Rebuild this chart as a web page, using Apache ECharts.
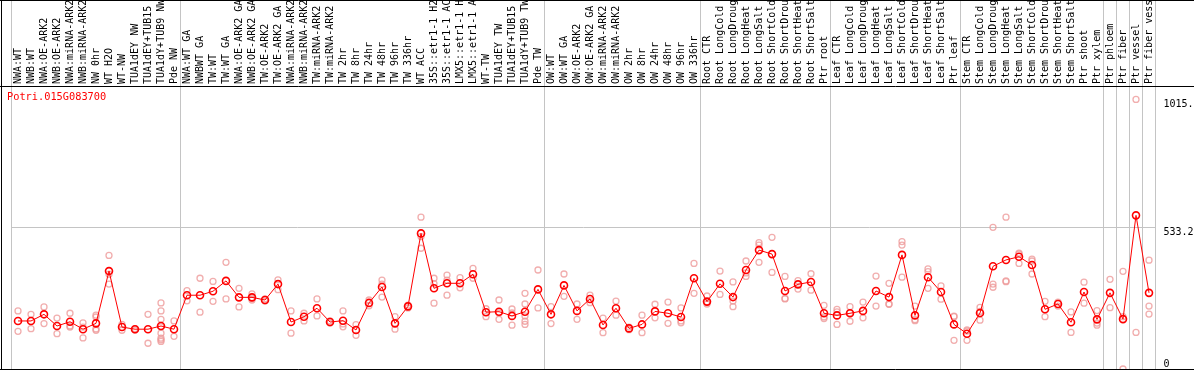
<!DOCTYPE html>
<html>
<head>
<meta charset="utf-8">
<title>Potri.015G083700</title>
<script src="https://cdn.jsdelivr.net/npm/echarts@6/dist/echarts.min.js"></script>
<style>
  html, body { margin: 0; padding: 0; background: #fff; }
  #main { width: 1194px; height: 370px; }
</style>
</head>
<body>
<div id="main"></div>
<script>
var geneName = 'Potri.015G083700';

// sample names (as shown, cut to 14 chars)
var categories = [
  'NWA:WT', 'NWB:WT', 'NWA:OE-ARK2', 'NWB:OE-ARK2', 'NWA:miRNA-ARK2', 'NWB:miRNA-ARK2', 'NW 0hr',
  'WT H2O', 'WT-NW', 'TUA1dEY NW', 'TUA1dEY+TUB15', 'TUA1dY+TUB9 NW', 'Pde NW',
  'NWA:WT GA', 'NWBWT GA', 'TW:WT', 'TW:WT GA', 'NWA:OE-ARK2 GA', 'NWB:OE-ARK2 GA', 'TW:OE-ARK2',
  'TW:OE-ARK2 GA', 'NWA:miRNA-ARK2', 'NWB:miRNA-ARK2', 'TW:miRNA-ARK2', 'TW:miRNA-ARK2',
  'TW 2hr', 'TW 8hr', 'TW 24hr', 'TW 48hr', 'TW 96hr', 'TW 336hr', 'WT ACC',
  '35S::etr1-1 H2', '35S::etr1-1 AC', 'LMX5::etr1-1 H', 'LMX5::etr1-1 A', 'WT-TW',
  'TUA1dEY TW', 'TUA1dEY+TUB15', 'TUA1dY+TUB9 TW', 'Pde TW',
  'OW:WT', 'OW:WT GA', 'OW:OE-ARK2', 'OW:OE-ARK2 GA', 'OW:miRNA-ARK2', 'OW:miRNA-ARK2',
  'OW 2hr', 'OW 8hr', 'OW 24hr', 'OW 48hr', 'OW 96hr', 'OW 336hr',
  'Root CTR', 'Root LongCold', 'Root LongDroug', 'Root LongHeat', 'Root LongSalt',
  'Root ShortCold', 'Root ShortDrou', 'Root ShortHeat', 'Root ShortSalt', 'Ptr root',
  'Leaf CTR', 'Leaf LongCold', 'Leaf LongDroug', 'Leaf LongHeat', 'Leaf LongSalt',
  'Leaf ShortCold', 'Leaf ShortDrou', 'Leaf ShortHeat', 'Leaf ShortSalt', 'Ptr leaf',
  'Stem CTR', 'Stem LongCold', 'Stem LongDroug', 'Stem LongHeat', 'Stem LongSalt',
  'Stem ShortCold', 'Stem ShortDrou', 'Stem ShortHeat', 'Stem ShortSalt', 'Ptr shoot',
  'Ptr xylem', 'Ptr phloem', 'Ptr fiber', 'Ptr vessel', 'Ptr fiber vess'
];

// first sample of each group (a grey separator is drawn before it)
var groupStarts = [0, 13, 41, 53, 63, 73, 84, 85, 86, 87];

// mean expression level per sample
var means = [
  181, 181, 206, 162, 178, 150, 172, 369, 158, 150, 150, 162, 150,
  278, 278, 293, 332, 270, 270, 260, 320, 177, 197, 229, 177, 182, 147, 249, 309, 172, 236, 511,
  304, 323, 323, 357, 214, 216, 200, 216, 300,
  206, 315, 219, 264, 166, 229, 153, 168, 217, 210, 196, 342,
  254, 321, 271, 373, 448, 433, 294, 319, 328, 210,
  202, 210, 219, 294, 271, 430, 202, 346, 290, 168,
  133, 211, 387, 411, 423, 392, 225, 245, 176, 290,
  187, 287, 188, 579, 287
];

// single replicates per sample
var replicates = [
  [219, 142], [206, 152], [234, 171], [192, 133], [210, 162, 158], [174, 117, 158],
  [203, 196, 146, 151], [428, 357, 320], [168, 146], [152, 147], [206, 97],
  [249, 219, 187, 159, 135, 116, 110, 104], [181, 123],
  [295, 257], [342, 214], [330, 255], [402, 264], [304, 234], [283, 260, 267], [264, 256],
  [336, 299], [219, 135], [210, 181], [264, 200], [181, 173], [219, 159, 170], [167, 127],
  [260, 238], [335, 271, 320], [197, 150], [241, 230], [572, 455, 499], [342, 248, 322],
  [354, 278, 335], [344, 306], [379, 342], [227, 197], [260, 187, 211], [226, 165, 211],
  [285, 245, 168, 200, 180], [373, 230],
  [235, 171], [358, 274], [245, 187], [278, 250], [192, 137], [256, 203], [158, 148],
  [203, 137], [244, 193], [252, 172], [230, 174, 181], [398, 285],
  [275, 245, 252], [369, 281], [328, 235, 256], [407, 349, 362], [476, 402, 467],
  [496, 364], [349, 266, 264], [333, 301], [359, 297], [240, 190, 196],
  [225, 168, 215], [235, 180, 211], [252, 193], [350, 237], [323, 244, 245],
  [480, 467, 346], [237, 186, 182], [377, 367, 304], [313, 263], [197, 108, 199],
  [147, 108, 143], [232, 184, 217], [534, 320, 308], [572, 329, 332], [433, 398, 437],
  [407, 358, 414], [255, 197], [237, 252], [215, 138], [327, 248],
  [220, 165, 173], [338, 231], [368, 0, 197], [1015.8, 138], [410, 237, 207]
];

var yMax = 1066.4;
var yStep = 533.2;
var yLabels = [0, 533.2, 1015.8];

var FONT = '"DejaVu Sans Mono", monospace';

var chart = echarts.init(document.getElementById('main'), null, { renderer: 'canvas' });

// scatter points for replicates
var repPoints = [];
replicates.forEach(function (list, i) {
  list.forEach(function (v) {
    repPoints.push([i, v]);
  });
});

function isSeparator(index) {
  return groupStarts.indexOf(index) >= 0;
}

var sepLine = {
  show: true,
  interval: isSeparator,
  lineStyle: { color: '#c4c4c4', width: 1 }
};

function frameLine(x1, y1, x2, y2) {
  return {
    type: 'line',
    silent: true,
    z: 100,
    shape: { x1: x1, y1: y1, x2: x2, y2: y2 },
    style: { stroke: '#000', lineWidth: 1 }
  };
}

var option = {
  animation: false,
  backgroundColor: '#fff',
  title: {
    text: geneName,
    left: 7,
    top: 92,
    padding: 0,
    textStyle: { color: '#ff0000', fontFamily: FONT, fontSize: 10.3, fontWeight: 'normal' }
  },
  grid: [
    { left: 11.5, right: 38.5, top: 0, height: 86, outerBoundsMode: 'none' },
    { left: 11.5, right: 38.5, top: 86, bottom: 1, outerBoundsMode: 'none' }
  ],
  xAxis: [{
    gridIndex: 0,
    type: 'category',
    data: categories,
    axisLine: { show: false },
    axisTick: { show: false },
    axisLabel: { show: false },
    splitLine: sepLine
  }, {
    gridIndex: 1,
    type: 'category',
    position: 'top',
    data: categories,
    axisLine: { show: false },
    axisTick: { show: false },
    axisLabel: {
      interval: 0,
      rotate: 90,
      margin: 2,
      color: '#000',
      fontFamily: FONT,
      fontSize: 10
    },
    splitLine: sepLine
  }],
  yAxis: [{
    gridIndex: 0,
    type: 'value',
    show: false
  }, {
    gridIndex: 1,
    type: 'value',
    position: 'right',
    min: 0,
    max: yMax,
    interval: yStep,
    axisLine: { show: false },
    axisTick: { show: false },
    splitLine: { show: true, lineStyle: { color: '#c4c4c4', width: 1 } },
    axisLabel: {
      customValues: yLabels,
      margin: 8,
      color: '#000',
      fontFamily: FONT,
      fontSize: 10,
      verticalAlign: 'top',
      verticalAlignMinLabel: 'bottom',
      formatter: function (v) {
        return v === 0 ? '0' : v.toFixed(1);
      }
    }
  }],
  graphic: [
    frameLine(0, 0.5, 1194, 0.5),
    frameLine(0, 86.5, 1194, 86.5),
    frameLine(0, 369.5, 1194, 369.5),
    frameLine(1.5, 0, 1.5, 370)
  ],
  series: [{
    name: 'replicates',
    type: 'scatter',
    xAxisIndex: 1,
    yAxisIndex: 1,
    data: repPoints,
    symbol: 'circle',
    symbolSize: 6,
    silent: true,
    itemStyle: { color: 'transparent', borderColor: '#ee9a9a', borderWidth: 1.3 },
    z: 2
  }, {
    name: 'mean',
    type: 'line',
    xAxisIndex: 1,
    yAxisIndex: 1,
    data: means,
    symbol: 'circle',
    symbolSize: 7,
    showAllSymbol: true,
    silent: true,
    lineStyle: { color: '#ff0000', width: 1 },
    itemStyle: { color: 'transparent', borderColor: '#ff0000', borderWidth: 1.6 },
    z: 3
  }]
};

chart.setOption(option);
</script>
</body>
</html>
